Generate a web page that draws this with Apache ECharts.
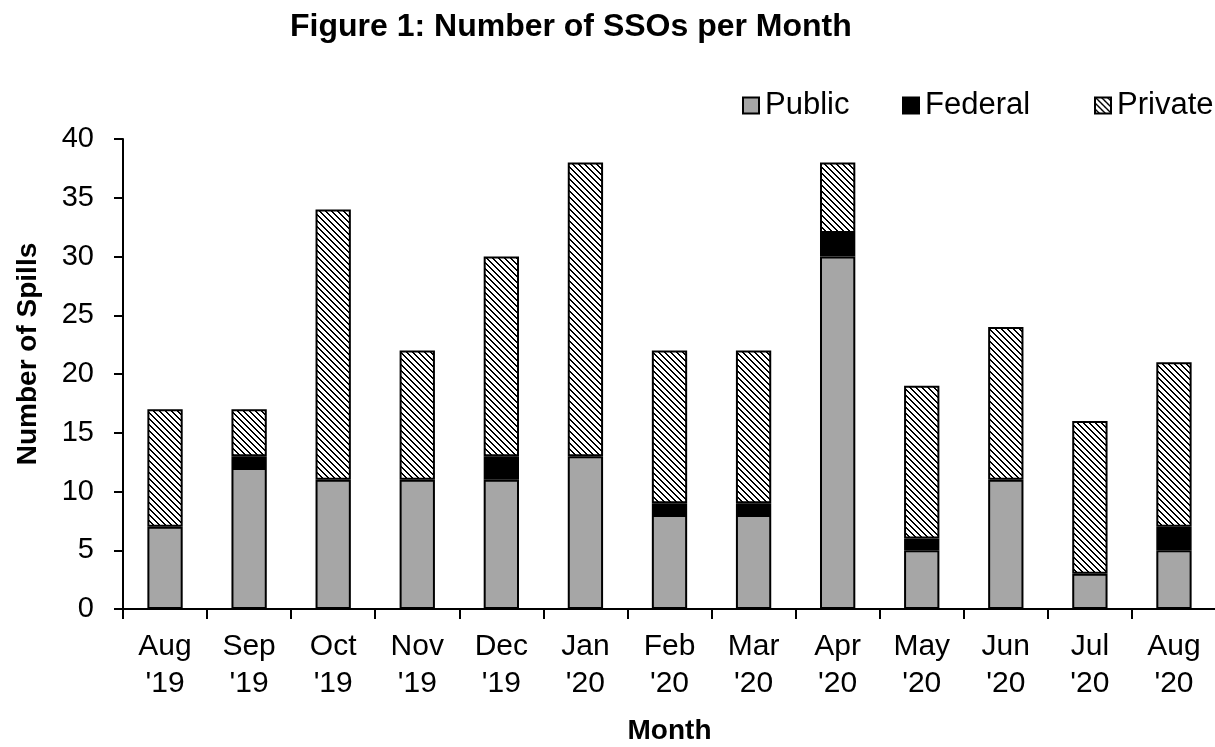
<!DOCTYPE html>
<html>
<head>
<meta charset="utf-8">
<script src="https://cdn.jsdelivr.net/npm/echarts@6/dist/echarts.min.js"></script>
<style>
html,body{margin:0;padding:0;background:#fff;}
#chart{width:1215px;height:747px;}
</style>
</head>
<body>
<div id="chart"></div>
<script>
const categories = ["Aug\n'19","Sep\n'19","Oct\n'19","Nov\n'19","Dec\n'19","Jan\n'20","Feb\n'20","Mar\n'20","Apr\n'20","May\n'20","Jun\n'20","Jul\n'20","Aug\n'20"];
const publicVals  = [7,12,11,11,11,13,8,8,30,5,11,3,5];
const federalVals = [0,1,0,0,2,0,1,1,2,1,0,0,2];
const privateVals = [10,4,23,11,17,25,13,13,6,13,13,13,14];
const seriesNames = ['Public','Federal','Private'];

// hatch pattern for Private
const pc = document.createElement('canvas');
pc.width = 6; pc.height = 6;
const pctx = pc.getContext('2d');
pctx.fillStyle = '#fff';
pctx.fillRect(0,0,6,6);
pctx.fillStyle = '#000';
for (let i = 0; i < 6; i++) {
  pctx.fillRect(i, i, 1, 1);
  pctx.fillRect((i + 1) % 6, i, 1, 1);
}

// zero-height segments get no outline
const noZeroBorder = arr => arr.map(v => v === 0 ? {value: v, itemStyle: {borderWidth: 0}} : v);

const font = 'Liberation Sans, Arial, sans-serif';
function legendAt(name, left) {
  return {
    left: left, top: 85,
    itemWidth: 16, itemHeight: 16,
    icon: 'rect',
    textStyle: {fontFamily: font, fontSize: 31, color: '#000', padding: [0,0,0,1]},
    data: [name]
  };
}
const chart = echarts.init(document.getElementById('chart'));
chart.setOption({
  animation: false,
  textStyle: {fontFamily: font, color: '#000'},
  title: {
    text: 'Figure 1: Number of SSOs per Month',
    left: 285, top: 6,
    textStyle: {fontFamily: font, fontSize: 32, fontWeight: 'bold', color: '#000'}
  },
  legend: [legendAt(seriesNames[0], 737), legendAt(seriesNames[1], 897), legendAt(seriesNames[2], 1089)],
  grid: {left: 123, right: -1, top: 139, bottom: 138, outerBoundsMode: 'none', containLabel: false},
  xAxis: {
    type: 'category',
    data: categories,
    name: 'Month',
    nameLocation: 'middle',
    nameGap: 108,
    nameTextStyle: {fontFamily: font, fontSize: 28, fontWeight: 'bold', color: '#000'},
    axisLine: {lineStyle: {color: '#000', width: 2}},
    axisTick: {show: true, length: 10, lineStyle: {color: '#000', width: 2}},
    axisLabel: {fontFamily: font, fontSize: 30, color: '#000', lineHeight: 37, margin: 19, interval: 0}
  },
  yAxis: {
    type: 'value',
    min: 0, max: 40, interval: 5,
    name: 'Number of Spills',
    nameLocation: 'middle',
    nameGap: 81,
    nameTextStyle: {fontFamily: font, fontSize: 28, fontWeight: 'bold', color: '#000', padding: [0,0,0,40]},
    axisLine: {show: true, lineStyle: {color: '#000', width: 2}},
    axisTick: {show: true, length: 9, lineStyle: {color: '#000', width: 2}},
    splitLine: {show: false},
    axisLabel: {fontFamily: font, fontSize: 29, color: '#000', margin: 29}
  },
  series: [
    {name: seriesNames[0], type: 'bar', stack: 's', data: noZeroBorder(publicVals), barWidth: '42%',
     itemStyle: {color: '#a6a6a6', borderColor: '#000', borderWidth: 2}},
    {name: seriesNames[1], type: 'bar', stack: 's', data: noZeroBorder(federalVals), barWidth: '42%',
     itemStyle: {color: '#000', borderColor: '#000', borderWidth: 2}},
    {name: seriesNames[2], type: 'bar', stack: 's', data: noZeroBorder(privateVals), barWidth: '42%',
     itemStyle: {color: {image: pc, repeat: 'repeat'}, borderColor: '#000', borderWidth: 2}}
  ]
});
</script>
</body>
</html>
